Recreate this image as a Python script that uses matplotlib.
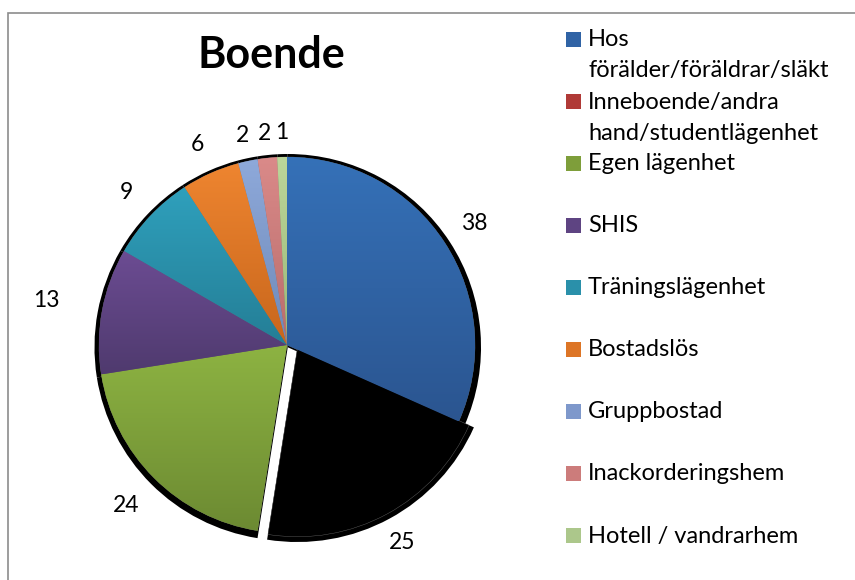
import matplotlib
matplotlib.use("Agg")
import matplotlib.pyplot as plt
import numpy as np
from matplotlib.patches import Rectangle
from matplotlib.colors import LinearSegmentedColormap

# data
categories = ["Hos\nförälder/föräldrar/släkt", "Inneboende/andra\nhand/studentlägenhet",
              "Egen lägenhet", "SHIS", "Träningslägenhet", "Bostadslös",
              "Gruppbostad", "Inackorderingshem", "Hotell / vandrarhem"]
values = [38, 25, 24, 13, 9, 6, 2, 2, 1]
title = "Boende"

# (top, bottom) gradient colours per slice; the second slice renders flat black
top_colors = ["#3571B8", "#000000", "#8DB342", "#6C4C93", "#2FA0BC",
              "#EE8530", "#8EA9DA", "#DA8A89", "#BCD69A"]
bottom_colors = ["#2B5590", "#000000", "#6C8A32", "#4F3A6E", "#247E96",
                 "#C8661C", "#6E89B8", "#B86C6B", "#9AB878"]
legend_colors = ["#3063A5", "#B03A37", "#7E9E3A", "#5E4482", "#2A90AA",
                 "#DD7526", "#7E98CB", "#CC7C7B", "#ACC78B"]
label_dist = [1.19, 1.17, 1.21, 1.3, 1.18, 1.17, 1.14, 1.13, 1.13]

plt.rcParams['font.family'] = ['Lato', 'DejaVu Sans']

W, H, DPI = 855, 580, 100
fig = plt.figure(figsize=(W / DPI, H / DPI), dpi=DPI)

# border of the chart area
fig.patches.append(Rectangle((8 / W, -0.1), 1.2, (H - 13) / H + 0.1, transform=fig.transFigure,
                             fill=False, edgecolor="#8c8c8c", linewidth=1.2))

# pie axes: centre (287, 345) px, radius 188 px
cx, cy, r = 287, 345, 188
L = 1.5
size = 2 * L * r
ax = fig.add_axes([(cx - size / 2) / W, (H - cy - size / 2) / H, size / W, size / H])

shift = (0.055, -0.02)  # the black slice sits a little off centre

# dark shadow behind the pie
shadows, _ = ax.pie(values, startangle=90, counterclock=False,
                    colors=["black"] * len(values), radius=1.028, center=(0.004, -0.012))
shadows[1].set_center(shift)

wedges, texts = ax.pie(values, startangle=90, counterclock=False, colors=top_colors,
                       labels=[str(v) for v in values],
                       textprops=dict(fontsize=16.5, color="black"),
                       wedgeprops=dict(linewidth=0.3, edgecolor="#666666"))
wedges[1].set_center(shift)

# vertical gradient fill inside each wedge
grad = np.linspace(0, 1, 256).reshape(-1, 1)
for w, c1, c2 in zip(wedges, top_colors, bottom_colors):
    if c1 == c2:
        continue
    bb = w.get_path().get_extents()
    cmap = LinearSegmentedColormap.from_list("g", [c1, c2])
    im = ax.imshow(grad, cmap=cmap, extent=(bb.x0, bb.x1, bb.y0, bb.y1),
                   origin="upper", aspect="auto", zorder=w.get_zorder() + 0.1)
    im.set_clip_path(w)

# data labels
for w, t, d in zip(wedges, texts, label_dist):
    ang = np.deg2rad((w.theta1 + w.theta2) / 2)
    x0, y0 = w.center
    t.set_position((x0 + d * np.cos(ang), y0 + d * np.sin(ang)))
    t.set_horizontalalignment("center")
    t.set_verticalalignment("center")

ax.set_xlim(-L, L)
ax.set_ylim(-L, L)
ax.set_aspect("equal")
ax.axis("off")

fig.text(271 / W, 1 - 55 / H, title, fontsize=31, fontweight="bold", ha="center", va="center")

# legend
y0, step = 40, 62
for i, (lab, col) in enumerate(zip(categories, legend_colors)):
    y = y0 + step * i
    fig.patches.append(Rectangle((566 / W, 1 - (y + 7) / H), 15 / W, 15 / H,
                                 transform=fig.transFigure, facecolor=col, edgecolor="none"))
    for j, line in enumerate(lab.split("\n")):
        fig.text(588 / W, 1 - (y + 31 * j) / H, line, fontsize=17, ha="left", va="center")

fig.savefig("out.png", dpi=DPI, facecolor="white")
